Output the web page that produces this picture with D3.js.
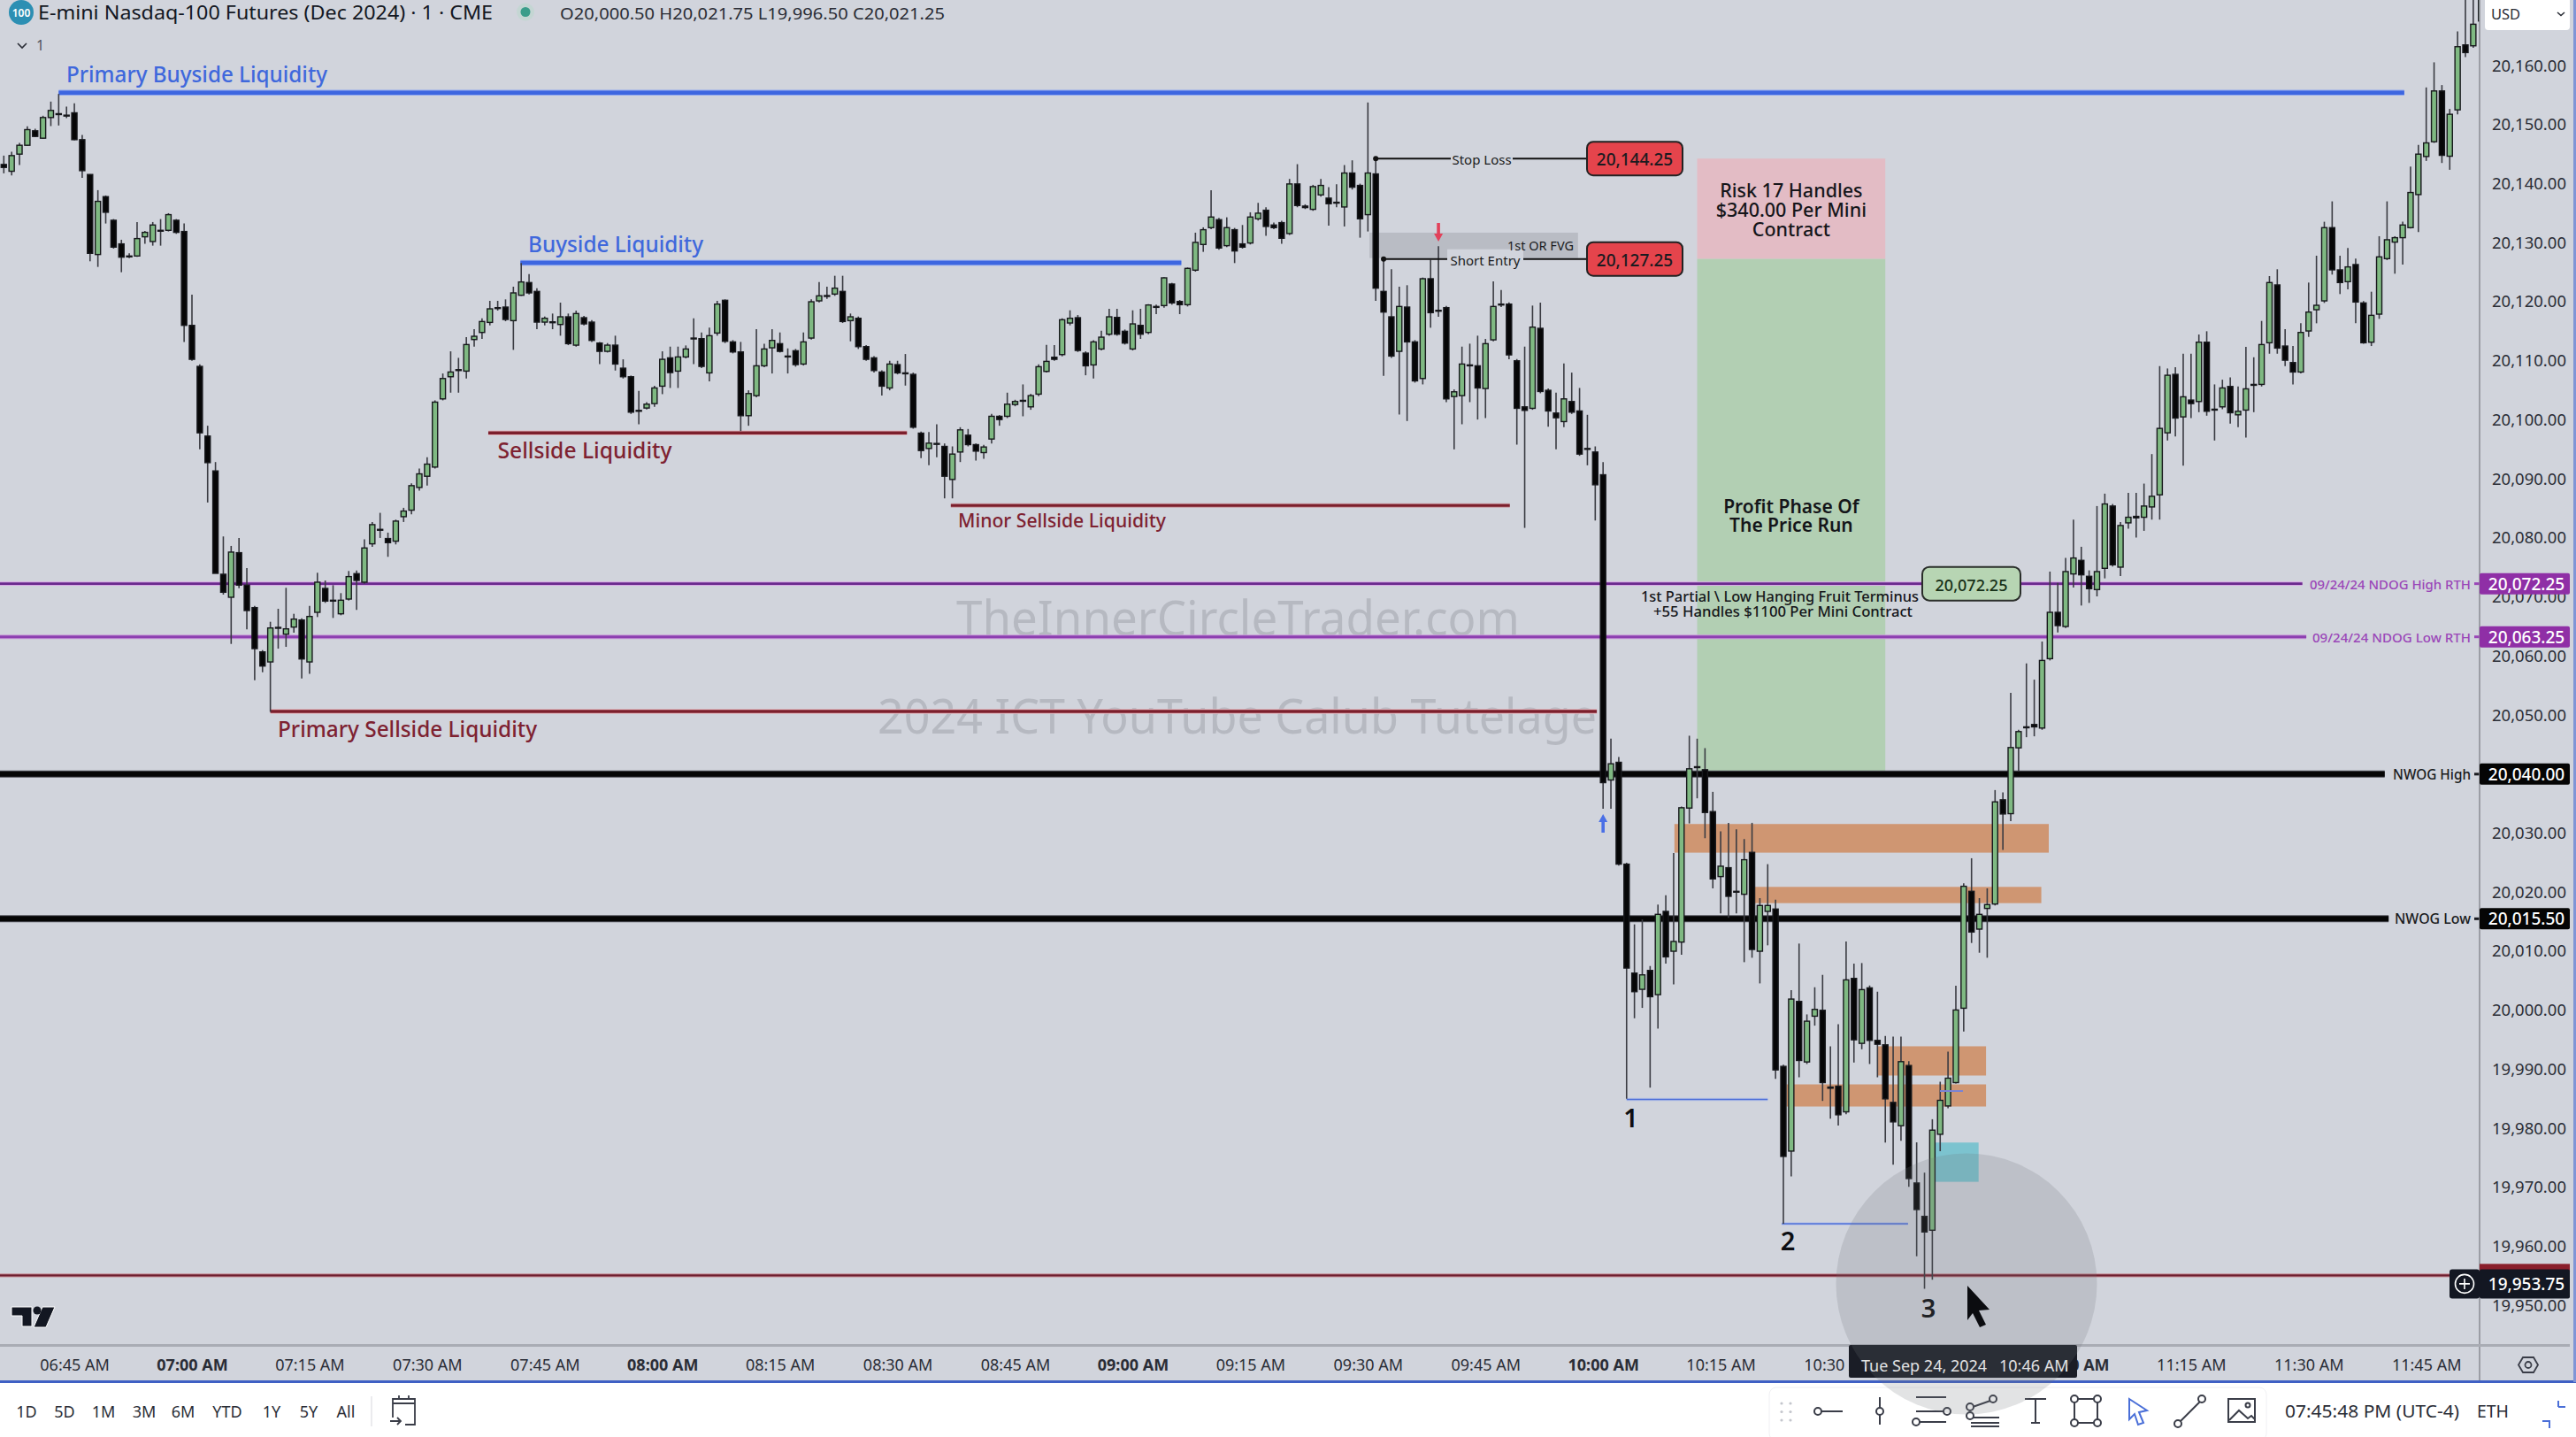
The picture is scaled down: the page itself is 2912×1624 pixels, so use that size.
<!DOCTYPE html>
<html><head><meta charset="utf-8">
<style>html,body{margin:0;padding:0;background:#fff}svg{display:block}text{font-family:"Noto Sans",sans-serif}</style>
<script src="https://d3js.org/d3.v7.min.js"></script></head><body>
<svg id="c" width="2912" height="1624" viewBox="0 0 2912 1624"></svg>
<script>
const firstBarMinute = 396;
const opens = [20143.25,20142.1,20145,20146.5,20148.95,20147.7,20151.2,20151.85,20151.6,20152,
20147.45,20141.55,20128,20137.8,20133.8,20129.8,20127.6,20127.75,20131,20130.2,
20132.1,20132.1,20133.8,20131.9,20116,20109.05,20097.25,20091.35,20073.85,20069.95,
20077.5,20072,20068.2,20060.7,20059,20064.85,20063.7,20064.9,20066.1,20059,
20067.4,20071.45,20069.45,20067.15,20069.65,20073.95,20072.5,20079,20081.45,20079.9,
20079.45,20083.6,20084.7,20088.55,20090.45,20092,20103.55,20107.3,20108.5,20108.25,
20113.6,20114.8,20116.5,20119,20119.1,20116.8,20121.1,20123.25,20121.75,20116.55,
20116.6,20116.15,20117.45,20112.65,20117.3,20116.55,20113,20111.6,20112.65,20108.75,
20107.3,20101.6,20102,20102.75,20105.7,20110.5,20108.25,20110.65,20113.85,20113.75,
20107.95,20114.7,20120.25,20113.2,20111.5,20100.7,20104.1,20109.15,20112.2,20112.9,
20110.8,20111.7,20109.45,20113.85,20120.15,20121.05,20121.3,20121.75,20116.8,20117.2,
20112.4,20110.5,20108.1,20105.4,20109.35,20107.95,20107.7,20097.75,20095.15,20096,
20095.5,20089.9,20094.55,20097.4,20095.8,20094.45,20096.75,20100.6,20100.6,20102.6,
20103.3,20102.2,20104.35,20108.2,20110.6,20111.05,20116.4,20117.3,20111.3,20109.3,
20112,20114.5,20117.35,20115,20112,20116,20114.8,20119.2,20119.35,20123,
20120.05,20119.5,20125.35,20129.7,20132.55,20133.9,20129.5,20132.2,20129.8,20129.95,
20134.05,20135.5,20133,20133.4,20131.55,20139.95,20136.2,20135.65,20138.1,20137.55,
20136.85,20136.05,20141.8,20139.7,20134.75,20141.65,20121.75,20117.45,20111.6,20119.1,
20113.2,20107,20123.9,20118.55,20119,20103.95,20104.1,20109.3,20109.15,20105.3,
20113.55,20119.6,20119.6,20110,20102.2,20101.95,20115.5,20105,20101.15,20099.7,
20103.1,20101.5,20095.15,20094.55,20090.7,20039,20042,20024.75,20006.3,20003.55,
20006.75,20002.65,20016.75,20010,20011.55,20034.25,20041.25,20040.75,20033.65,20022.65,
20024.15,20020.15,20019.65,20026.75,20010,20016.75,20017.15,19990.5,19976.15,20001.5,
19991.25,19999,20000,19987,19987.15,19982.8,20005.4,19994.4,20003.8,19994.9,
19994.15,19984.4,19980.45,19990.65,19970.75,19965.1,19962.75,19979,19983.8,19987.75,
20000.35,20020.15,20013.75,20017.25,20018,20035.65,20033.3,20044.45,20048,20048.4,
20047.8,20059.55,20067.4,20065,20073.9,20076.2,20073.5,20071.25,20074.85,20085.4,
20075.05,20082.55,20083.65,20083.5,20085.25,20087.3,20097.8,20107.7,20100.5,20103.35,
20103.1,20113.15,20101.8,20102.2,20105.65,20100.85,20101.65,20106,20106,20113.05,
20122.85,20112.5,20109.7,20108.1,20115.05,20118.65,20120.15,20132.55,20125.4,20123.4,
20126.3,20119.8,20113.15,20117.9,20127.3,20130.1,20130.85,20132.55,20138.15,20144.6,
20147.1,20155.7,20144.65,20152.5,20163.5,20163.35,20167.55];
const closes = [20142.75,20144.75,20146.5,20149.15,20148,20151.2,20152.4,20151.85,20151.6,20147.45,
20142.2,20128.2,20137,20135.15,20129.25,20127.55,20127.75,20130.7,20131.75,20133,
20132.1,20134.75,20131.75,20116,20110.25,20097.8,20092.75,20074,20070.8,20077.6,
20072,20067.7,20061.25,20058.3,20064.75,20064.85,20064.6,20066.25,20059.5,20066.7,
20072.5,20069.3,20069.45,20069.45,20073.45,20072.8,20078.3,20082.25,20081.45,20079.2,
20082.85,20084.55,20088.85,20090.85,20092.5,20103,20107,20108.1,20108.5,20112.75,
20114.15,20116.65,20118.8,20119,20117,20121.5,20123.35,20121.5,20116.55,20117.2,
20116.6,20117.45,20112.9,20118,20116.25,20113.45,20111.6,20112.65,20109.45,20107.3,
20101.3,20101.6,20102.65,20105.4,20110.25,20108,20110.65,20112,20113.85,20109.05,
20114.25,20119.6,20113.3,20111.5,20100.7,20104.45,20109.15,20112,20113.45,20111.6,
20110.8,20109.35,20113.2,20120,20121,20121.05,20122.3,20116.65,20117.45,20112.4,
20110.25,20108.35,20105.7,20109.45,20107.95,20107.95,20098.75,20094.8,20096.05,20096,
20090.45,20094.2,20098.3,20095.8,20094.7,20095.4,20100.6,20100.05,20102.65,20103.1,
20103.3,20104.1,20109,20109.9,20110.25,20116.95,20117.2,20111.75,20109.15,20113.2,
20114,20117.45,20114.5,20113,20116.25,20114.5,20119.45,20119.2,20124.05,20119.8,
20119.5,20125.65,20130.05,20132.2,20134.35,20129.1,20132.55,20128.6,20129.25,20134.35,
20135,20132.75,20132.55,20130.75,20139.95,20136.3,20135.95,20139.5,20139.7,20136.6,
20136.85,20141.8,20139.4,20134.05,20141.8,20122.3,20118.25,20110.8,20119.2,20113.2,
20106.6,20123.9,20118.15,20118.55,20103.55,20104.75,20109.45,20109.3,20105.4,20112.9,
20119.2,20119.6,20111,20101.95,20101.6,20115.7,20104.8,20101.5,20100.35,20103.55,
20101.3,20094.2,20095.15,20089,20038.55,20041.75,20024.75,20007.15,20003.15,20006,
20002.3,20016.25,20009.05,20011.65,20034.3,20040.9,20041.25,20033.5,20022.25,20024.4,
20019.3,20020.15,20025.5,20010.3,20017.75,20017.75,19989.9,19975.25,20001.9,19991.5,
19998.15,20000.15,19987.75,19986.8,19982.3,20005.15,19995,20003.5,19994.9,19994.25,
19985,19981.1,19991.3,19971.5,19966.25,19962.45,19979.7,19984.75,19988.5,20000.05,
20021,20013.25,20016.25,20017.9,20035.3,20033.25,20044.5,20047.2,20048,20048,
20059.25,20067.4,20065.15,20074.3,20076.6,20073.75,20071.4,20074.3,20085.75,20075.45,
20082.1,20083.5,20083.4,20085.4,20087.05,20098.55,20107.55,20100.3,20103.9,20102.75,
20113.15,20101.45,20101.8,20105.4,20101.2,20101.45,20105.25,20106,20112.75,20123.25,
20112.15,20110.1,20108.1,20114.8,20118.25,20119.4,20132.55,20125.4,20123.25,20125.9,
20119.95,20113.05,20117.7,20127.6,20130.5,20130.85,20133,20138.5,20145,20146.9,
20155.7,20144.8,20151.75,20163.2,20162.2,20167,20175];
const highs = [20144.75,20145.4,20146.9,20149.7,20149.3,20151.5,20153.9,20155.2,20153.05,20153.6,
20148.25,20141.6,20138.9,20138,20134,20130.5,20128.2,20133.5,20132,20133.5,
20134,20135,20134,20133.25,20121.2,20109.4,20099,20092.85,20080.25,20078.65,
20080,20074.9,20068.5,20061,20065.8,20068,20071.55,20067.15,20066.4,20068.5,
20074.1,20072.8,20072,20070.65,20074.4,20074.5,20079.75,20082.7,20084.25,20080.9,
20083.1,20085.1,20089.25,20091.75,20093.65,20103.3,20107.85,20111.6,20110.5,20114,
20115.35,20117.2,20120.15,20120.15,20120.4,20122.55,20126.55,20124.7,20122.3,20117.5,
20118,20119.85,20118,20118.5,20117.6,20116.9,20113.2,20113,20114.25,20110.25,
20107.5,20104.9,20103,20105.75,20111.6,20112.4,20112.4,20112.6,20117.2,20114.8,
20115.6,20120.15,20120.4,20113.5,20113.2,20105,20115.35,20112.9,20115.35,20114.8,
20112.1,20112,20114.8,20120.4,20123.35,20122.55,20124.4,20124.4,20118,20117.5,
20112.65,20110.8,20108.4,20110,20110,20111.15,20108,20098,20097.95,20099.25,
20096,20095.5,20098.75,20098.45,20096,20095.75,20101,20100.8,20104.6,20103.4,
20106,20104.4,20109.4,20112.7,20112.65,20117.2,20118.55,20117.75,20111.6,20113.5,
20115.1,20118.8,20118.8,20115.3,20118.55,20118.8,20119.6,20119.5,20124.15,20123.2,
20120.3,20125.8,20131.7,20132.6,20138.9,20134.2,20134.3,20132.5,20133,20135.15,
20136.75,20136,20133.4,20133.7,20140.8,20143.3,20136.5,20139.8,20140.8,20139.4,
20139.9,20143.15,20143.95,20140,20153.75,20144.25,20127.35,20125.5,20122.55,20122.8,
20113.5,20124.1,20127.1,20129.4,20119.3,20105.15,20112.4,20112.9,20114.25,20113.7,
20123.45,20122,20119.9,20110.3,20112.4,20119.35,20119.85,20105.3,20104.6,20109.55,
20108,20105.4,20100.85,20095.5,20092.85,20046,20042.9,20025,20014.55,20015.4,
20007.5,20017.9,20019.5,20026.65,20034.5,20046.5,20046,20044.4,20037,20030.3,
20031.75,20030.65,20029,20031.75,20019,20024.75,20018.75,19990.8,20003.4,20011.3,
19999.3,20003.9,20006,19993.9,19997.65,20011.65,20007.9,20008,20004.2,20003.15,
19995.65,19995.55,19995.55,19991.4,19977.65,19972.5,19981.55,19987.9,19993,20004.15,
20021.5,20025.75,20019,20020.65,20037.3,20036.9,20053.75,20047.5,20058.75,20056,
20062.45,20074.3,20072.4,20076.6,20083.1,20078.5,20074.5,20085.4,20087.5,20085.75,
20082.7,20087.65,20087.65,20089.2,20094.2,20109.1,20108.7,20108.9,20111.2,20111.2,
20114.45,20115,20106,20106.8,20107.2,20105.65,20112.35,20110.6,20116.75,20124.35,
20125.5,20115.35,20112.5,20116.35,20123.25,20127.8,20133.55,20137,20127.8,20129.1,
20127.3,20120.1,20121.7,20131.1,20137,20131.1,20133.55,20142.9,20146.55,20156.3,
20160.55,20156.7,20152.65,20165.8,20175,20175,20178];
const lows = [20141.75,20141.4,20143.15,20146.4,20147.9,20147.6,20149.75,20149.85,20151.1,20147.35,
20141,20126.85,20125.9,20133.25,20129,20125,20127.4,20127.6,20129.8,20129.5,
20129.5,20131.9,20131.5,20113.2,20110,20095,20086,20074,20070.4,20062.05,
20071.5,20064.5,20055.9,20057.25,20050.55,20061.25,20061.55,20063.95,20056.2,20057,
20066.6,20069,20066.45,20066.9,20069.4,20067.8,20072.25,20078.5,20080,20076.8,
20078.9,20082.7,20084,20088,20088.85,20091.75,20103.3,20104.6,20104.6,20107,
20112.4,20113.7,20116,20118.5,20116.7,20111.85,20121,20121.25,20115.35,20116,
20115.35,20114.25,20112.65,20112.4,20116,20113.2,20109.45,20111.4,20108.35,20107,
20101,20099.25,20101.75,20102.2,20104.35,20105.4,20105.4,20110.4,20109.45,20108.75,
20106.5,20114.25,20113,20111.25,20098.1,20099,20103.8,20108.9,20107.85,20111.4,
20107.85,20109,20109.2,20113.6,20119.9,20120.5,20121,20116.4,20113.3,20112,
20110,20108,20104.1,20105,20107.7,20105.8,20098.5,20093.5,20092.3,20093.65,
20086.7,20086.7,20092.85,20095.5,20093.1,20093.4,20096,20099,20100.3,20102.3,
20100.6,20101.7,20104,20108,20110,20110.75,20116,20111.5,20107.55,20107,
20111.75,20114.25,20114.25,20112.75,20111.75,20113.7,20114.5,20117.9,20119,20119.5,
20117.9,20119.2,20125.1,20128.45,20132.3,20128.8,20129.25,20126.55,20129,20129.7,
20133.75,20131.15,20132.3,20129.8,20131.3,20136,20135.7,20135.4,20137.8,20132.9,
20136,20132.75,20139,20130.85,20131.9,20120.15,20107.45,20110.5,20100.9,20099.8,
20106.3,20106,20115.6,20117.45,20103,20095,20099.25,20103,20100.05,20100.3,
20113.3,20119.1,20110.25,20095.8,20081.7,20101.7,20104.5,20098.85,20095,20098.75,
20101,20093.9,20092.3,20082.95,20034.15,20034.15,20024.5,19985,19998.65,20000.4,
19986.9,19996.9,20007.9,20004.4,20009.4,20031.65,20035.9,20029.15,20020.65,20016.4,
20015.65,20016.4,20008.15,20008.9,20004.55,20011,19988.4,19963.85,19971.85,19988.65,
19990.9,19997.4,19984.65,19981.65,19980.5,19982.4,19991.15,19993.4,19990.9,19988.65,
19977.6,19973.85,19977.9,19970.1,19958.35,19952.85,19954.35,19976.15,19983.4,19987.6,
19996.4,20011.4,20009.75,20008.9,20017.75,20027.15,20032.05,20040.5,20046.25,20046.4,
20047.5,20059.25,20064,20064.75,20071.6,20068.55,20069,20070.1,20073.15,20075.15,
20073.55,20081.55,20080.05,20081.2,20083.1,20083.1,20096.5,20097.2,20092.25,20100.3,
20101.3,20100.7,20096.5,20101.8,20099.35,20098.75,20097,20101.3,20105.65,20111.2,
20111.2,20109.1,20106,20107.85,20114.05,20116.35,20119.8,20124.6,20121.3,20122.1,
20116.35,20112.9,20112.5,20117.1,20127.05,20124.75,20126.3,20132.4,20131.8,20143.85,
20146.9,20143.5,20142.35,20151.75,20161.45,20163,20167.3];

const priceTicks = d3.range(19950, 20161, 10);
const timeTicks = d3.range(405, 706, 15);

// horizontal levels: price, first minute, last minute, kind
const levelPrices = [20155.4,20126.6,20097.8,20085.5,20050.6,20072.25,20063.25,20040,20015.5,19955.1,19984.9,19963.85];
const levelStarts = [403,461.9,457.8,516.8,430,395,395,395,395,395,603,622.8];
const levelEnds = [702.2,546.2,511.2,588.1,599.2,689.2,689.7,699.7,700.2,708,621,638.9];
const levelKinds = ["blue","blue","red","redThin","red","purpleD","purple","black","black","redStop","thinBlue","thinBlue"];

// shaded zones: minute from, minute to, price top, price bottom, kind
const zoneFrom = [612,612,609.1,619.3,635,623.4,642.3,570.2];
const zoneTo = [636,636,656.85,655.9,648.85,648.85,647.9,596.8];
const zoneTop = [20144.25,20127.25,20031.55,20020.9,19993.9,19987.45,19977.6,20131.7];
const zoneBottom = [20127.25,20040,20026.7,20018.15,19988.95,19983.7,19970.95,20127.4];
const zoneKinds = ["risk","reward","fvg","fvg","fvg","fvg","teal","gray"];

const stopPrice = 20144.25, entryPrice = 20127.25, targetPrice = 20072.25;
const ndogHigh = 20072.25, ndogLow = 20063.25, nwogHigh = 20040, nwogLow = 20015.5, lastCross = 19953.75;
const rangeTabs = ["1D","5D","1M","3M","6M","YTD","1Y","5Y","All"];

const svg = d3.select("#c");
const x = d3.scaleLinear().domain([420,705]).range([217,2742.7]);
const y = d3.scaleLinear().domain([20160,19950]).range([74.1,1475.4]);
const paneW = 2803, paneB = 1520.5;
const fmt = d3.format(",.2f");
const bars = opens.map((o,i)=>({t:firstBarMinute+i,o,c:closes[i],h:highs[i],l:lows[i]}));
const BG = "#d1d4dc";

svg.append("rect").attr("width",2912).attr("height",1624).attr("fill","#fff");
svg.append("rect").attr("width",2912).attr("height",1561).attr("fill",BG);
const defs = svg.append("defs");
defs.append("clipPath").attr("id","pane").append("rect").attr("width",paneW).attr("height",paneB);

const pane = svg.append("g").attr("clip-path","url(#pane)");

// watermarks
const wm = pane.append("g").attr("fill","#b6b9c1").attr("font-size",54);
wm.append("text").attr("x",1081).attr("y",718).attr("textLength",637).attr("lengthAdjust","spacingAndGlyphs").text("TheInnerCircleTrader.com");
wm.append("text").attr("x",992).attr("y",829).attr("textLength",813).attr("lengthAdjust","spacingAndGlyphs").text("2024 ICT YouTube Calub Tutelage");

// zones
const zoneFill = {risk:"#e3bcc5",reward:"#b2cfb3",fvg:"#cf9672",teal:"#7cc3cf",gray:"#b9bcc4"};
pane.append("g").selectAll("rect").data(zoneKinds).join("rect")
  .attr("x",(d,i)=>x(zoneFrom[i])).attr("width",(d,i)=>x(zoneTo[i])-x(zoneFrom[i]))
  .attr("y",(d,i)=>y(zoneTop[i])).attr("height",(d,i)=>y(zoneBottom[i])-y(zoneTop[i]))
  .attr("fill",d=>zoneFill[d]);

// levels, each with the soft halo the reference shows around its lines
const lvl = {blue:["#3d66e0",4.5,"#8ea6ee"],red:["#7c1f2c",3.5,"#e3b4bb"],redThin:["#7c1f2c",3,"#c99aa2"],purple:["#8d3fb0",3,"#c79ad8"],purpleD:["#6a2a8e",2.6,"#d9a8e6"],black:["#050505",6,"#50525a"],redStop:["#6f2030",2.2,"#c58b94"],thinBlue:["#4f70d8",1.6,"#b9c3e6"]};
const levelG = pane.append("g");
[0,1].forEach(layer=>{
  levelG.append("g").selectAll("line").data(levelKinds).join("line")
    .attr("x1",(d,i)=>x(levelStarts[i])).attr("x2",(d,i)=>x(levelEnds[i]))
    .attr("y1",(d,i)=>y(levelPrices[i])).attr("y2",(d,i)=>y(levelPrices[i]))
    .attr("stroke",d=>layer?lvl[d][0]:lvl[d][2])
    .attr("stroke-width",d=>layer?lvl[d][1]:lvl[d][1]+2);
});

// candles
const GREEN="#7fb982", DARK="#17181c";
const cg = pane.append("g");
cg.selectAll("line").data(bars).join("line")
  .attr("x1",d=>x(d.t)).attr("x2",d=>x(d.t)).attr("y1",d=>y(d.h)).attr("y2",d=>y(d.l))
  .attr("stroke","#3a3b42").attr("stroke-width",1.6);
cg.selectAll("rect").data(bars).join("rect")
  .attr("x",d=>x(d.t)-3).attr("width",6)
  .attr("y",d=>y(Math.max(d.o,d.c)))
  .attr("height",d=>Math.max(1,Math.abs(y(d.o)-y(d.c))))
  .attr("fill",d=>d.c>=d.o?GREEN:"#060607").attr("stroke",DARK).attr("stroke-width",1.4);

// texts on chart
function label(txt,px,py,size,fill,opts={}){
  const t=svg.append("text").attr("x",px).attr("y",py).attr("font-size",size).attr("fill",fill)
    .attr("dominant-baseline","central").text(txt);
  if(opts.anchor)t.attr("text-anchor",opts.anchor);
  if(opts.weight)t.attr("font-weight",opts.weight);
  if(opts.len)t.attr("textLength",opts.len).attr("lengthAdjust","spacingAndGlyphs");
  return t;
}
const BL="#3f68dc", RD="#7e2231";
label("Primary Buyside Liquidity",75,82.5,25,BL,{weight:500,len:295});
label("Buyside Liquidity",597,274.5,25,BL,{weight:500,len:198});
label("Sellside Liquidity",562.5,508,25,RD,{weight:500,len:197});
label("Minor Sellside Liquidity",1083,586.5,22,RD,{weight:500,len:235});
label("Primary Sellside Liquidity",314,822.5,25,RD,{weight:500,len:293});

// position tool texts
const cx = x(624);
[["Risk 17 Handles",214],["$340.00 Per Mini",236],["Contract",258]].forEach(d=>label(d[0],cx,d[1],21.5,"#15161a",{anchor:"middle",weight:500}));
[["Profit Phase Of",572],["The Price Run",593]].forEach(d=>label(d[0],cx,d[1],21,"#15161a",{anchor:"middle",weight:600}));
label("1st Partial \\ Low Hanging Fruit Terminus",1855,674,15.5,"#15161a",{weight:500,len:314});
label("+55 Handles $1100 Per Mini Contract",1869,691,15.5,"#15161a",{weight:500,len:293});

// callouts: stop & entry
function callout(price,fromX,gap,text,size){
  const py=y(price);
  svg.append("line").attr("x1",fromX).attr("x2",1794).attr("y1",py).attr("y2",py).attr("stroke","#111").attr("stroke-width",2);
  svg.append("rect").attr("x",gap[0]).attr("width",gap[1]-gap[0]).attr("y",py-11).attr("height",22).attr("fill",BG);
  svg.append("circle").attr("cx",fromX).attr("cy",py).attr("r",3).attr("fill","#111");
  label(text,(gap[0]+gap[1])/2,py+1,size,"#1a1b20",{anchor:"middle"});
  svg.append("rect").attr("x",1794).attr("y",py-19).attr("width",108).attr("height",38).attr("rx",7).attr("fill","#e5444c").attr("stroke","#222").attr("stroke-width",2);
  label(fmt(price),1848,py+1,19,"#1a1b20",{anchor:"middle",weight:500});
}
callout(stopPrice,x(571),[1640,1710],"Stop Loss",15);
callout(entryPrice,x(572),[1636,1722],"Short Entry",15);
label("1st OR FVG",1779,277,14.5,"#1a1b20",{anchor:"end"});

// green target pill
svg.append("rect").attr("x",2173).attr("y",y(targetPrice)-19).attr("width",111).attr("height",38).attr("rx",8).attr("fill","#b7d5b3").attr("stroke","#2a2e2a").attr("stroke-width",2);
label(fmt(targetPrice),2228.5,y(targetPrice)+1,18,"#173017",{anchor:"middle",weight:500});

// arrows
function arrow(px,tip,tail,col){
  const dir=tail>tip?1:-1;
  svg.append("path").attr("d",`M${px},${tip} L${px+5},${tip+dir*9} L${px+1.8},${tip+dir*9} L${px+1.8},${tail} L${px-1.8},${tail} L${px-1.8},${tip+dir*9} L${px-5},${tip+dir*9} Z`).attr("fill",col);
}
arrow(x(600),920,941,"#4a6fe6");
arrow(x(579),273,252,"#e2415a");

// swing numbers
label("1",1843.5,1262,29,"#0d0e12",{anchor:"middle",weight:600});
label("2",2021,1401.5,29,"#0d0e12",{anchor:"middle",weight:600});
label("3",2180,1477.5,29,"#0d0e12",{anchor:"middle",weight:600});
svg.append("line").attr("x1",2193).attr("x2",2219).attr("y1",1233).attr("y2",1233).attr("stroke","#7a83d4").attr("stroke-width",2);

// level tags near the axis
function endTag(txt,price,col,size,len){
  label(txt,2793,y(price),size,col,{anchor:"end",len,weight:500});
  svg.append("line").attr("x1",2797).attr("x2",2803).attr("y1",y(price)).attr("y2",y(price)).attr("stroke",col).attr("stroke-width",3);
}
endTag("09/24/24 NDOG High RTH",ndogHigh,"#9a46b8",14.5,182);
endTag("09/24/24 NDOG Low RTH",ndogLow,"#9a46b8",14.5,179);
endTag("NWOG High",nwogHigh,"#1a1b20",15.5,88);
endTag("NWOG Low",nwogLow,"#1a1b20",15.5,86);

// axes
svg.append("line").attr("x1",paneW).attr("x2",paneW).attr("y1",0).attr("y2",1561).attr("stroke","#8a8d95").attr("stroke-width",1.5);
svg.append("line").attr("x1",0).attr("x2",2905).attr("y1",paneB).attr("y2",paneB).attr("stroke","#a9acb4").attr("stroke-width",3);
const yAxis = svg.append("g").attr("transform",`translate(${paneW},0)`)
  .call(d3.axisRight(y).tickValues(priceTicks).tickSize(0).tickPadding(14).tickFormat(fmt));
yAxis.select(".domain").remove();
yAxis.selectAll("text").attr("font-size",18.5).attr("fill","#2a2d36").attr("font-family",'"Noto Sans",sans-serif');

function timeFmt(m){
  const h=Math.floor(m/60),mm=m%60;
  const hh=h>12?h-12:h;
  return String(hh).padStart(2,"0")+":"+String(mm).padStart(2,"0")+" AM";
}
const xAxis = svg.append("g").attr("transform",`translate(0,${paneB})`)
  .call(d3.axisBottom(x).tickValues(timeTicks).tickSize(0).tickPadding(16).tickFormat(timeFmt));
xAxis.select(".domain").remove();
xAxis.selectAll("text").attr("font-size",18).attr("fill","#2a2d36").attr("font-family",'"Noto Sans",sans-serif')
  .attr("font-weight",d=>d%60===0?700:400);

// price tags
function priceTag(price,col){
  const py=y(price);
  svg.append("rect").attr("x",paneW).attr("y",py-12).attr("width",102).attr("height",24).attr("rx",2).attr("fill",col);
  label(fmt(price),2856,py,19,"#fff",{anchor:"middle",weight:500});
}
priceTag(ndogHigh,"#8f2fa6");
priceTag(ndogLow,"#8f2fa6");
priceTag(nwogHigh,"#050505");
priceTag(nwogLow,"#050505");

// crosshair price tag
const cy=y(lastCross);
svg.append("rect").attr("x",paneW).attr("y",cy-22).attr("width",102).attr("height",10).attr("fill","#8a1f2c");
svg.append("rect").attr("x",paneW).attr("y",cy-16).attr("width",102).attr("height",33).attr("rx",2).attr("fill","#131722");
svg.append("rect").attr("x",2769).attr("y",cy-16).attr("width",34).attr("height",33).attr("rx",3).attr("fill","#131722");
label(fmt(lastCross),2856,cy+0.5,19,"#fff",{anchor:"middle",weight:500});
svg.append("circle").attr("cx",2786).attr("cy",cy+0.5).attr("r",10.5).attr("fill","none").attr("stroke","#fff").attr("stroke-width",1.6);
svg.append("path").attr("d",`M2780,${cy+0.5}H2792M2786,${cy-5.5}V${cy+6.5}`).attr("stroke","#fff").attr("stroke-width",1.6);

// crosshair time tag
svg.append("rect").attr("x",2090).attr("y",1520).attr("width",258).attr("height",37).attr("rx",2).attr("fill","#1a1d26");
label("Tue Sep 24, 2024",2104,1543,18,"#fff");
label("10:46 AM",2260,1543,18,"#fff");

// USD box
svg.append("rect").attr("x",2809).attr("y",-4).attr("width",96).attr("height",38).attr("rx",4).attr("fill","#fff");
label("USD",2816,15,16.5,"#2a2d36");
svg.append("path").attr("d","M2891,14 l4,3.5 l4,-3.5").attr("fill","none").attr("stroke","#2a2d36").attr("stroke-width",1.6);

// selection frame
svg.append("rect").attr("x",0).attr("y",1560).attr("width",2912).attr("height",3).attr("fill","#3f60c4");
svg.append("rect").attr("x",2909).attr("y",0).attr("width",3).attr("height",1562).attr("fill","#7f95d6");

// header
svg.append("circle").attr("cx",24).attr("cy",14).attr("r",14).attr("fill","#2c8fb3");
label("100",24,14.5,12,"#fff",{anchor:"middle",weight:600});
label("E-mini Nasdaq-100 Futures (Dec 2024) · 1 · CME",43,14,21,"#131722",{len:514});
svg.append("circle").attr("cx",594).attr("cy",13.5).attr("r",10).attr("fill","#c4d6d3");
svg.append("circle").attr("cx",594).attr("cy",13.5).attr("r",5.5).attr("fill","#3a9d8a");
label("O20,000.50  H20,021.75  L19,996.50  C20,021.25",633,14,18.5,"#2a2d36",{len:435});
svg.append("path").attr("d","M20,49 l5,5 l5,-5").attr("fill","none").attr("stroke","#2a2d36").attr("stroke-width",1.6);
label("1",41,51,16,"#50535e");

// TV logo
svg.append("path").attr("fill","#131722").attr("stroke","#fff").attr("stroke-width",1)
  .attr("d","M13,1477 H36 V1499 H25 V1487 H13 Z M48,1477 H62 L52,1500 H38 Z");
svg.append("circle").attr("cx",42).attr("cy",1481).attr("r",4.5).attr("fill","#131722");

// bottom bar
const tabX=[30,73,117,163,207,257,307,349,391];
rangeTabs.forEach((d,i)=>label(d,tabX[i],1595,18,"#2a2d36",{anchor:"middle"}));
svg.append("line").attr("x1",420).attr("x2",420).attr("y1",1578).attr("y2",1612).attr("stroke","#e4e5e9").attr("stroke-width",1.5);
const ic = svg.append("g").attr("fill","none").attr("stroke","#3a3d48").attr("stroke-width",1.8);
ic.append("path").attr("d","M444,1602 V1586 H469 V1610 H458 M444,1586 V1581 H469 V1586 M451,1581 V1577 M462,1581 V1577 M441,1606 H453 M449,1602 l4,4 l-4,4");
label("07:45:48 PM (UTC-4)",2583,1595,19,"#2a2d36",{len:197});
label("ETH",2800,1595,19,"#2a2d36",{len:36});
svg.append("path").attr("d","M2874,1606 h8 v8 M2892,1590 v-7 M2892,1590 h8").attr("fill","none").attr("stroke","#4a6fd8").attr("stroke-width",2);

// drawing toolbar
svg.append("rect").attr("x",2000).attr("y",1568).attr("width",562).attr("height",60).attr("rx",8).attr("fill","#fff").attr("stroke","#f0f0f3");
const tb = svg.append("g").attr("fill","none").attr("stroke","#3a3d48").attr("stroke-width",2);
d3.range(2).forEach(c=>d3.range(3).forEach(r=>svg.append("circle").attr("cx",2014+c*10).attr("cy",1586+r*9.5).attr("r",1.6).attr("fill","#c4c6cd")));
const circ=(cxp,cyp)=>tb.append("circle").attr("cx",cxp).attr("cy",cyp).attr("r",4).attr("fill","#fff");
tb.append("path").attr("d","M2059,1595 H2083"); circ(2055,1595);
tb.append("path").attr("d","M2125,1579 V1610"); circ(2125,1595);
tb.append("path").attr("d","M2166,1579 H2200 M2166,1595 H2198 M2170,1607 H2200"); circ(2201,1595); circ(2166,1607);
tb.append("path").attr("d","M2230,1590 L2250,1583 M2228,1602 H2260 M2228,1608 H2260 M2228,1612 H2260"); circ(2227,1590); circ(2253,1581); circ(2227,1600);
tb.append("path").attr("d","M2289,1581 H2313 M2301,1581 V1608 M2296,1608 H2306");
tb.append("rect").attr("x",2345).attr("y",1581).attr("width",26).attr("height",27);
circ(2345,1581);circ(2371,1581);circ(2345,1608);circ(2371,1608);
svg.append("path").attr("d","M2407,1581 L2427,1594 L2418,1596 L2423,1608 L2417,1610 L2413,1598 L2407,1604 Z").attr("fill","#fff").attr("stroke","#4a6fd8").attr("stroke-width",2);
tb.append("path").attr("d","M2465,1606 L2488,1583"); circ(2462,1609); circ(2489,1581);
tb.append("rect").attr("x",2519).attr("y",1581).attr("width",30).attr("height",26);
tb.append("path").attr("d","M2520,1605 L2531,1594 L2541,1603 L2545,1600 L2549,1604");
tb.append("circle").attr("cx",2541).attr("cy",1588).attr("r",2.5);

// settings hexagon
svg.append("path").attr("d","M2847,1542.5 L2852,1534 H2864 L2869,1542.5 L2864,1551 H2852 Z").attr("fill","none").attr("stroke","#3a3d48").attr("stroke-width",1.8);
svg.append("circle").attr("cx",2858).attr("cy",1542.5).attr("r",3.5).attr("fill","none").attr("stroke","#3a3d48").attr("stroke-width",1.8);

// cursor highlight and pointer
svg.append("circle").attr("cx",2223).attr("cy",1451).attr("r",147.5).attr("fill","#6f7178").attr("fill-opacity",0.2);
svg.append("path").attr("d","M2224,1453 L2249,1480 L2237,1481 L2245,1497 L2238,1500 L2230,1484 L2224,1492 Z").attr("fill","#0b0c10");
</script>
</body></html>
